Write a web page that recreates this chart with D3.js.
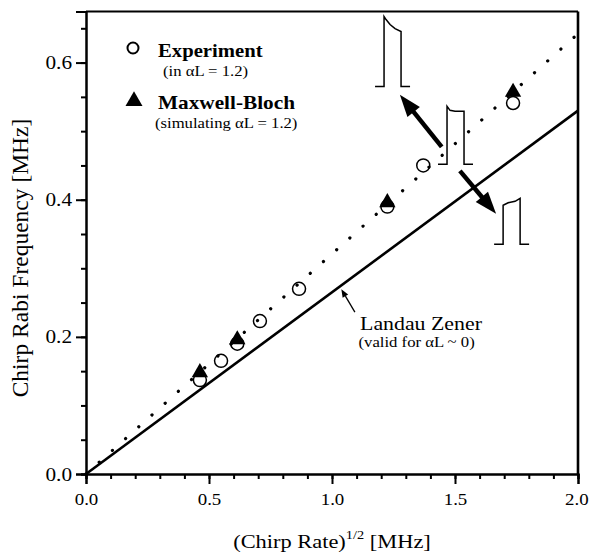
<!DOCTYPE html>
<html><head><meta charset="utf-8">
<script src="https://cdn.jsdelivr.net/npm/d3@7"></script>
<style>body{margin:0;background:#fff}svg{display:block}text{font-family:"Liberation Serif","Times New Roman",serif;fill:#000}</style>
</head><body>
<script>
// ---- data ----
const expX = [0.463, 0.549, 0.615, 0.707, 0.866, 1.225, 1.371, 1.736];
const expY = [0.137, 0.165, 0.190, 0.223, 0.270, 0.390, 0.450, 0.541];
const mbX  = [0.463, 0.615, 1.225, 1.736];
const mbY  = [0.148, 0.196, 0.396, 0.557];
const lzLine   = [[0, 0], [2.0, 0.530]];   // Landau Zener (solid)
const fitLine  = [[0, 0], [2.0, 0.642]];   // dotted
const xMajor = [0, 0.5, 1.0, 1.5, 2.0];
const yMajor = [0, 0.2, 0.4, 0.6];
const xMinor = d3.range(0, 2.0001, 0.1);
const yMinor = d3.range(0, 0.6501, 0.05);
const xLabel = "(Chirp Rate)";
const yLabel = "Chirp Rabi Frequency [MHz]";
const legendLabels = ["Experiment", "Maxwell-Bloch"];
const legendSub = ["(in \u03B1L = 1.2)", "(simulating \u03B1L = 1.2)"];
const lzLabel = "Landau Zener", lzSub = "(valid for \u03B1L ~ 0)";
// annotation arrows in data units [tail, tip]
const arrows = [[[1.446, 0.477], [1.276, 0.553]], [[1.520, 0.442], [1.667, 0.3795]]];
// inset pulses: anchor (data units) + shape offsets (px)
const pulses = [
  {at: [1.175, 0.565], shape: [[0,0],[9,0],[9,-70],[11,-67],[15,-62],[20,-58],[26,-55],[26,0],[35,0]]},
  {at: [1.431, 0.4516], shape: [[0,0],[9,0],[9,-58],[12,-54],[17,-53],[26,-53],[26,0],[35,0]]},
  {at: [1.659, 0.335], shape: [[0,0],[9,0],[9,-39],[14,-41.5],[21,-43],[26,-46],[26,0],[35,0]]}
];

const W = 590, H = 554, SX = 1.15, SXT = 1.08;
const m = {l: 86, r: 12, t: 11.5, b: 80};
const svg = d3.select("body").append("svg").attr("width", W).attr("height", H);
const x = d3.scaleLinear().domain([0, 2.0]).range([m.l, W - m.r]);
const y = d3.scaleLinear().domain([0, 0.6745]).range([H - m.b, m.t]);

function htext(px, py, str, size, anchor, weight) {
  return svg.append("text").attr("transform", `translate(${px},${py}) scale(${SX},1)`)
    .attr("text-anchor", anchor || "start").attr("font-size", size)
    .attr("font-weight", weight || "normal").text(str);
}

// frame top/right
svg.append("line").attr("x1", x(0)).attr("x2", x(2)).attr("y1", y.range()[1]).attr("y2", y.range()[1])
  .attr("stroke", "#000").attr("stroke-width", 2);
svg.append("line").attr("x1", x(2)).attr("x2", x(2)).attr("y1", y(0)).attr("y2", y.range()[1])
  .attr("stroke", "#000").attr("stroke-width", 2.6);

// axes
const gx = svg.append("g").attr("transform", `translate(0,${y(0)})`)
  .call(d3.axisBottom(x).tickValues(xMajor).tickSize(10).tickFormat(d3.format(".1f")));
const gxm = svg.append("g").attr("transform", `translate(0,${y(0)})`)
  .call(d3.axisBottom(x).tickValues(xMinor).tickSize(5).tickFormat(""));
const gy = svg.append("g").attr("transform", `translate(${x(0)},0)`)
  .call(d3.axisLeft(y).tickValues(yMajor).tickSize(10).tickFormat(d3.format(".1f")));
const gym = svg.append("g").attr("transform", `translate(${x(0)},0)`)
  .call(d3.axisLeft(y).tickValues(yMinor).tickSize(5).tickFormat(""));
[gx, gxm, gy, gym].forEach(g => {
  g.selectAll("path.domain").attr("stroke", "#000").attr("stroke-width", 2);
  g.selectAll("line").attr("stroke", "#000").attr("stroke-width", 2);
});
gx.selectAll("text").attr("font-family", "Liberation Serif").attr("font-size", 17.5)
  .attr("y", 31).attr("dy", 0).attr("transform", `scale(${SXT},1)`)
  .attr("x", (d, i, n) => i === n.length - 1 ? -1.5 : 0);
gy.selectAll("text").attr("font-family", "Liberation Serif").attr("font-size", 18.5)
  .attr("x", -14 / SX).attr("dy", "0.33em").attr("transform", `scale(${SX},1)`);

// axis titles
const xt = htext((x(0) + x(2)) / 2, 548, "", 19.5, "middle");
xt.append("tspan").text(xLabel);
xt.append("tspan").attr("font-size", 12.5).attr("dy", -9).text("1/2");
xt.append("tspan").attr("dy", 9).text(" [MHz]");
svg.append("text").attr("transform", `translate(28,258) rotate(-90)`).attr("text-anchor", "middle")
  .attr("font-size", 23.5).text(yLabel);

// lines
const line = d3.line().x(d => x(d[0])).y(d => y(d[1]));
svg.append("path").attr("d", line(fitLine)).attr("fill", "none").attr("stroke", "#000")
  .attr("stroke-width", 3.2).attr("stroke-linecap", "round").attr("stroke-dasharray", "0.1 17.6");
svg.append("path").attr("d", line(lzLine)).attr("fill", "none").attr("stroke", "#000").attr("stroke-width", 2.6);

// data markers
svg.append("g").selectAll("circle").data(expX).join("circle")
  .attr("cx", d => x(d)).attr("cy", (d, i) => y(expY[i])).attr("r", 6.5)
  .attr("fill", "none").attr("stroke", "#000").attr("stroke-width", 1.5);
const tri = d3.symbol().type(d3.symbolTriangle).size(115);
svg.append("g").selectAll("path").data(mbX).join("path")
  .attr("transform", (d, i) => `translate(${x(d)},${y(mbY[i])})`).attr("d", tri).attr("fill", "#000");

// legend
svg.append("circle").attr("cx", 133).attr("cy", 48).attr("r", 5.5).attr("fill", "none")
  .attr("stroke", "#000").attr("stroke-width", 2);
svg.append("path").attr("transform", "translate(134,101)").attr("d", d3.symbol().type(d3.symbolTriangle).size(125)).attr("fill", "#000");
htext(158, 57, legendLabels[0], 18, "start", "bold");
htext(163, 76, legendSub[0], 14.5);
htext(158, 109, legendLabels[1], 18.5, "start", "bold");
htext(155, 128, legendSub[1], 14.5);

// Landau Zener annotation
htext(x(1.114), y(0.210), lzLabel, 19);
htext(x(1.108), y(0.185), lzSub, 14.5);
{
  const p0 = [x(1.093), y(0.236)], p1 = [x(1.038), y(0.2695)];
  const a = Math.atan2(p1[1] - p0[1], p1[0] - p0[0]);
  const L = 8, w = 3.2;
  const bx = p1[0] - L * Math.cos(a), by = p1[1] - L * Math.sin(a);
  svg.append("line").attr("x1", p0[0]).attr("y1", p0[1]).attr("x2", bx).attr("y2", by)
    .attr("stroke", "#000").attr("stroke-width", 1.3);
  svg.append("path").attr("d", `M${p1[0]},${p1[1]}L${bx - w * Math.sin(a)},${by + w * Math.cos(a)}L${bx + w * Math.sin(a)},${by - w * Math.cos(a)}Z`)
    .attr("fill", "#000");
}

// thick arrows
arrows.forEach(([t, h]) => {
  const p0 = [x(t[0]), y(t[1])], p1 = [x(h[0]), y(h[1])];
  const a = Math.atan2(p1[1] - p0[1], p1[0] - p0[0]);
  const L = 22, w = 8;
  const bx = p1[0] - L * Math.cos(a), by = p1[1] - L * Math.sin(a);
  svg.append("line").attr("x1", p0[0]).attr("y1", p0[1]).attr("x2", bx + 2 * Math.cos(a)).attr("y2", by + 2 * Math.sin(a))
    .attr("stroke", "#000").attr("stroke-width", 4.5);
  svg.append("path").attr("d", `M${p1[0]},${p1[1]}L${bx - w * Math.sin(a)},${by + w * Math.cos(a)}L${bx + w * Math.sin(a)},${by - w * Math.cos(a)}Z`)
    .attr("fill", "#000");
});

// inset pulses
pulses.forEach(p => {
  const ox = x(p.at[0]), oy = y(p.at[1]);
  svg.append("path").attr("d", d3.line().curve(d3.curveLinear)(p.shape.map(s => [ox + s[0], oy + s[1]])))
    .attr("fill", "none").attr("stroke", "#000").attr("stroke-width", 1.5);
});
</script>
</body></html>
